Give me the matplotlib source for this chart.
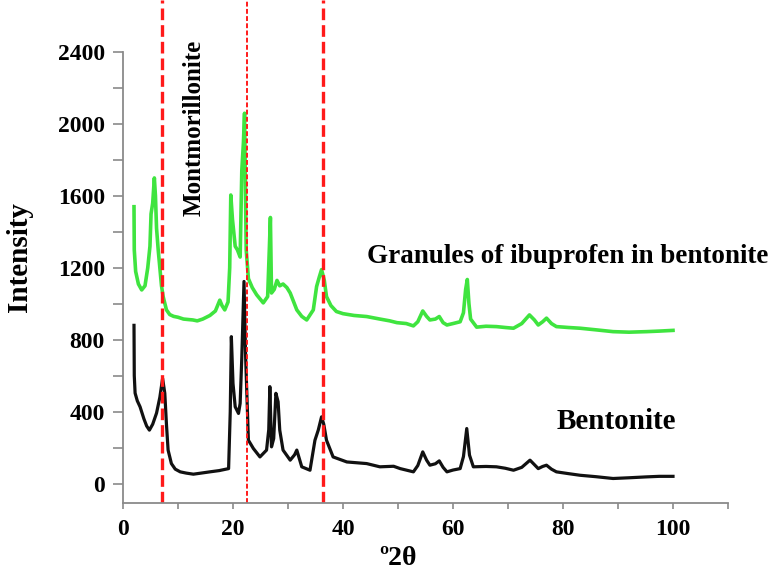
import matplotlib
matplotlib.use("Agg")
import matplotlib.pyplot as plt
from matplotlib.ticker import MultipleLocator, FixedLocator
import numpy as np

plt.rcParams['font.family'] = ['Liberation Serif', 'DejaVu Serif']
plt.rcParams['font.weight'] = 'bold'

# (2theta, intensity)
granules = np.array([
    (2.0, 1540), (2.05, 1300), (2.3, 1180), (2.8, 1110), (3.4, 1077), (4.0, 1100),
    (4.5, 1200), (4.9, 1320), (5.1, 1500), (5.4, 1560), (5.7, 1700), (5.9, 1600),
    (6.1, 1420), (6.4, 1300), (6.7, 1200), (7.0, 1100), (7.3, 1040), (7.9, 966),
    (8.5, 940), (9.2, 930), (10.0, 925), (11.0, 915), (12.0, 912), (12.7, 910),
    (13.5, 905), (14.5, 915), (15.8, 935), (16.8, 960), (17.6, 1020), (18.0, 990),
    (18.5, 966), (19.1, 1010), (19.4, 1200), (19.6, 1605), (19.9, 1470), (20.4, 1320),
    (20.8, 1300), (21.3, 1260), (21.6, 1740), (21.9, 1900), (22.1, 2060), (22.4, 1300),
    (22.8, 1140), (23.5, 1090), (24.3, 1050), (25.5, 1005), (26.3, 1040), (26.6, 1300),
    (26.8, 1480), (27.0, 1060), (27.5, 1080), (28.0, 1130), (28.5, 1100), (29.1, 1110),
    (29.8, 1090), (30.4, 1060), (31.6, 966), (32.5, 930), (33.4, 910), (34.6, 966),
    (35.2, 1096), (35.7, 1150), (36.1, 1190), (36.6, 1130), (37.0, 1040), (37.8, 990),
    (38.8, 957), (40.0, 945), (42.0, 935), (44.3, 929), (46.7, 915), (48.5, 905),
    (49.8, 895), (51.5, 890), (52.8, 877), (53.6, 900), (54.5, 960), (55.2, 930),
    (55.8, 910), (56.8, 915), (57.5, 929), (58.2, 895), (58.9, 882), (60.0, 890),
    (61.3, 900), (61.9, 950), (62.3, 1080), (62.6, 1135), (62.9, 1000), (63.2, 915),
    (64.3, 870), (66.0, 875), (67.9, 873), (69.5, 868), (71.0, 864), (72.5, 890),
    (73.9, 938), (74.8, 910), (75.5, 882), (76.3, 900), (77.0, 920), (77.9, 890),
    (78.8, 873), (81.0, 868), (83.1, 864), (86.0, 855), (89.1, 845), (92.0, 842),
    (95.2, 845), (97.5, 848), (100.0, 852),
])

bentonite = np.array([
    (2.0, 880), (2.05, 600), (2.2, 503), (2.6, 460), (3.1, 427), (3.8, 360),
    (4.3, 320), (4.8, 297), (5.4, 330), (6.1, 392), (6.7, 480), (7.2, 585),
    (7.6, 502), (7.9, 330), (8.2, 186), (8.8, 111), (9.5, 80), (10.4, 65),
    (11.5, 58), (12.8, 52), (14.2, 58), (15.8, 65), (17.5, 72), (19.2, 83),
    (19.5, 400), (19.7, 817), (20.0, 557), (20.4, 427), (21.0, 390), (21.3, 446),
    (21.6, 700), (22.0, 1124), (22.3, 700), (22.8, 241), (23.7, 195), (24.9, 148),
    (26.1, 186), (26.5, 300), (26.7, 539), (27.0, 204), (27.4, 250), (27.8, 502),
    (28.2, 455), (28.5, 297), (29.1, 186), (30.4, 130), (31.2, 160), (31.6, 186),
    (32.5, 93), (34.0, 74), (34.9, 241), (35.5, 297), (36.1, 371), (36.5, 330),
    (37.0, 241), (38.2, 148), (40.7, 120), (44.3, 111), (46.7, 93), (49.2, 96),
    (50.4, 83), (52.8, 65), (53.6, 100), (54.5, 176), (55.2, 130), (55.8, 102),
    (56.8, 110), (57.5, 126), (58.2, 90), (58.9, 65), (60.0, 75), (61.3, 83),
    (61.9, 150), (62.5, 306), (63.0, 158), (63.7, 93), (66.0, 95), (67.9, 93),
    (69.5, 85), (71.0, 74), (72.5, 90), (74.0, 130), (74.8, 105), (75.5, 83),
    (76.3, 95), (77.0, 102), (77.9, 80), (78.8, 65), (81.0, 55), (83.1, 46),
    (86.0, 38), (89.1, 28), (92.0, 32), (95.2, 37), (97.5, 40), (100.0, 40),
])

marker_lines = [7.1, 22.5, 36.4]
yticks = [0, 400, 800, 1200, 1600, 2000, 2400]

fig = plt.figure(figsize=(7.71, 5.70), dpi=100)
ax = fig.add_axes([123 / 771, 66.7 / 570, 605 / 771, 503.3 / 570])

ax.plot(granules[:, 0], granules[:, 1], color='#3fe43f', lw=2.6)
ax.plot(bentonite[:, 0], bentonite[:, 1], color='#111111', lw=2.3)

# red reference lines, middle one finer
ax.axvline(marker_lines[0], color='#ff1a1a', lw=2.4, ls=(0, (3.5, 1.5)))
ax.axvline(marker_lines[1], color='#ff1a1a', lw=1.4, ls=(0, (2.5, 1.2)))
ax.axvline(marker_lines[2], color='#ff1a1a', lw=2.4, ls=(0, (3.5, 1.5)))

ax.set_xlim(0, 110)
ax.set_ylim(-110, 2690)
ax.xaxis.set_major_locator(MultipleLocator(20))
ax.xaxis.set_minor_locator(MultipleLocator(10))
ax.yaxis.set_major_locator(FixedLocator(yticks))
ax.yaxis.set_minor_locator(FixedLocator(np.array(yticks[:-1]) + 200))

for s in ['top', 'right']:
    ax.spines[s].set_visible(False)
for s in ['left', 'bottom']:
    ax.spines[s].set_color('#8a8a8a')
    ax.spines[s].set_linewidth(1.3)
ax.spines['left'].set_bounds(-110, 2400)

ax.tick_params(axis='y', which='both', length=7, width=1.2, color='#8a8a8a', pad=6, labelsize=17)
ax.tick_params(axis='x', which='both', length=4, width=1.2, color='#8a8a8a', pad=7, labelsize=17)

ax.set_xlabel('º2θ', fontsize=20, fontweight='bold')
ax.xaxis.set_label_coords(50 / 110, -0.085)
ax.set_ylabel('Intensity', fontsize=21, fontweight='bold')
ax.yaxis.set_label_coords(-0.149, 0.49)

ax.text(12.9, 1980, 'Montmorillonite', rotation=90, ha='center', va='center', fontsize=18, fontweight='bold')
ax.text(44.4, 1228, 'Granules of ibuprofen in bentonite', ha='left', va='baseline', fontsize=19.5, fontweight='bold')
ax.text(78.9, 303, 'Bentonite', ha='left', va='baseline', fontsize=21, fontweight='bold')

fig.savefig('out.png', dpi=100)
